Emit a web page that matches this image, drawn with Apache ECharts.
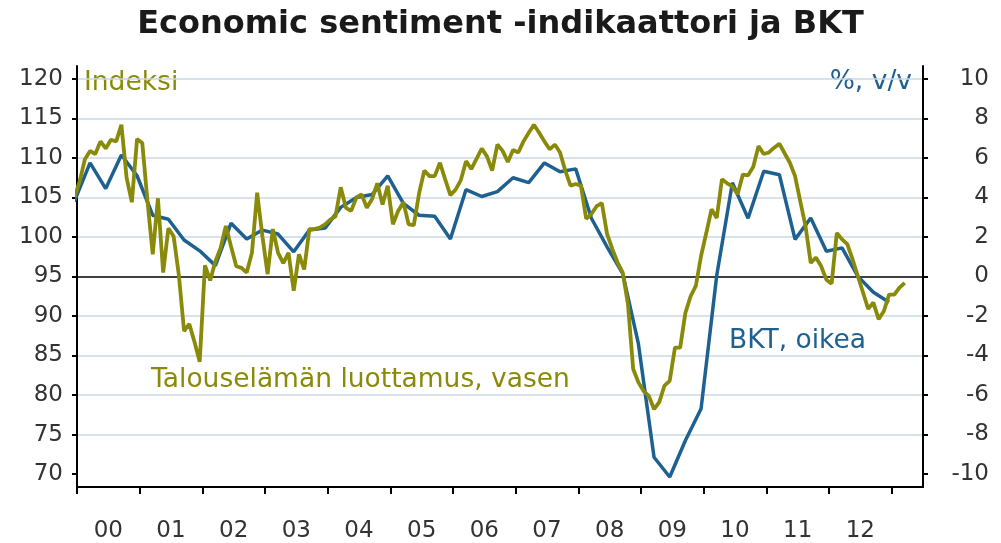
<!DOCTYPE html>
<html>
<head>
<meta charset="utf-8">
<script src="https://cdn.jsdelivr.net/npm/echarts@6/dist/echarts.min.js"></script>
<style>html,body{margin:0;padding:0;background:#fff}#c{width:1001px;height:543px}</style>
</head>
<body>
<div id="c"></div>
<script>
// ---------- data ----------
const titleText = 'Economic sentiment -indikaattori ja BKT';
const yearTicks = [2000, 2001, 2002, 2003, 2004, 2005, 2006, 2007, 2008, 2009, 2010, 2011, 2012, 2013];
const yearLabels = ['00', '01', '02', '03', '04', '05', '06', '07', '08', '09', '10', '11', '12'];
const leftTicks = [70, 75, 80, 85, 90, 95, 100, 105, 110, 115, 120];
const rightTicks = [-10, -8, -6, -4, -2, 0, 2, 4, 6, 8, 10];

// Economic sentiment indicator (monthly, left axis), first value = Dec 1999
const sentimentStartYear = 1999;
const sentimentStartMonth = 12;
const sentiment = [
  105.0,
  107.0, 109.8, 110.9, 110.5, 112.1, 111.2, 112.3, 112.1, 114.2, 107.5, 104.4, 112.4,
  111.9, 104.5, 97.8, 104.9, 95.5, 101.1, 100.1, 95.2, 88.1, 89.0, 86.7, 84.2,
  96.4, 94.5, 96.9, 98.6, 101.4, 98.8, 96.3, 96.1, 95.5, 98.0, 105.6, 100.1,
  95.3, 101.0, 98.0, 96.7, 98.0, 93.2, 97.8, 95.9, 101.0, 101.0, 101.2, 101.6,
  102.2, 102.6, 106.3, 103.7, 103.3, 105.0, 105.4, 103.7, 104.8, 106.8, 104.1, 106.5,
  101.6, 103.3, 104.4, 101.6, 101.5, 105.5, 108.4, 107.7, 107.7, 109.4, 107.3, 105.3,
  106.0, 107.2, 109.6, 108.6, 109.9, 111.2, 110.2, 108.4, 111.7, 110.9, 109.5, 111.0,
  110.7, 112.1, 113.2, 114.2, 113.2, 112.1, 111.1, 111.7, 110.7, 108.4, 106.5, 106.7,
  106.5, 102.3, 102.9, 103.9, 104.3, 100.4, 98.5, 96.8, 95.5, 91.5, 83.3, 81.6,
  80.5, 79.9, 78.2, 79.1, 81.2, 81.8, 86.0, 86.0, 90.4, 92.5, 93.8, 97.6,
  100.5, 103.5, 102.4, 107.3, 106.8, 106.4, 105.4, 107.9, 107.8, 108.9, 111.5, 110.5,
  110.7, 111.3, 111.8, 110.6, 109.4, 107.7, 104.5, 101.4, 96.7, 97.4, 96.3, 94.6,
  94.1, 100.5, 99.7, 99.1, 97.2, 95.1, 93.0, 90.9, 91.7, 89.6, 90.6, 92.7,
  92.7, 93.6, 94.2
];

// GDP, % y/y (quarterly, right axis), first value = Q4 1999
const gdpStartYear = 1999;
const gdpStartQuarter = 4;
const gdp = [
  3.8,
  5.75, 4.45, 6.15, 5.1,
  3.1, 2.9, 1.85, 1.3,
  0.55, 2.7, 1.9, 2.35,
  2.15, 1.25, 2.35, 2.45,
  3.5, 4.0, 4.15, 5.1,
  3.7, 3.1, 3.05, 1.9,
  4.4, 4.05, 4.3, 5.0,
  4.75, 5.75, 5.3, 5.45,
  2.95, 1.5, 0.15, -3.4,
  -9.15, -10.15, -8.3, -6.7,
  0.05, 4.75, 2.95, 5.33,
  5.15, 1.88, 2.96, 1.28,
  1.45, 0.02, -0.8, -1.3
];

// ---------- build ----------
const sentimentData = sentiment.map((v, i) => {
  const m = (sentimentStartMonth - 1) + i;
  const y = sentimentStartYear + Math.floor(m / 12);
  return [y + ((m % 12) + 0.5) / 12, v];
});
const gdpData = gdp.map((v, i) => {
  const q = (gdpStartQuarter - 1) + i;
  const y = gdpStartYear + Math.floor(q / 4);
  return [y + ((q % 4) * 3 + 2.5) / 12, v];
});

const OLIVE = '#8a8a0a';
const BLUE = '#1e6190';
const FONT = 'DejaVu Sans';
const GRID = '#cbd9e3';
const ANNO_FONT = '26.5px "DejaVu Sans"';

const splitColors = leftTicks.map(t => t === 95 ? '#000000' : (t === 70 ? 'rgba(0,0,0,0)' : GRID));

const chart = echarts.init(document.getElementById('c'), null, {renderer: 'canvas'});
chart.setOption({
  animation: false,
  backgroundColor: '#ffffff',
  title: {
    text: titleText,
    left: 'center',
    top: 4,
    textStyle: {fontFamily: FONT, fontSize: 32, fontWeight: 'bold', color: '#1a1a1a'}
  },
  grid: {left: 77, right: 78, top: 66, bottom: 55, containLabel: false},
  xAxis: {
    type: 'value',
    min: 2000,
    max: 2013.5,
    axisLine: {show: true, onZero: false, lineStyle: {color: '#000', width: 2}},
    axisTick: {show: true, customValues: yearTicks, length: 7, lineStyle: {color: '#000', width: 2}},
    axisLabel: {
      show: true,
      customValues: yearTicks.slice(0, -1).map(y => y + 0.5),
      formatter: v => yearLabels[Math.round(v - 0.5) - yearTicks[0]],
      margin: 33,
      fontFamily: FONT, fontSize: 23, color: '#333'
    },
    splitLine: {show: false}
  },
  yAxis: [
    {
      type: 'value',
      position: 'left',
      min: 68.36,
      max: 121.64,
      axisLine: {show: true, lineStyle: {color: '#000', width: 2}},
      axisTick: {show: true, customValues: leftTicks, length: 5, lineStyle: {color: '#000', width: 2}},
      axisLabel: {customValues: leftTicks, margin: 14, fontFamily: FONT, fontSize: 23, color: '#333'},
      splitLine: {show: true, lineStyle: {color: splitColors, width: 1.6}}
    },
    {
      type: 'value',
      position: 'right',
      min: -10.657,
      max: 10.657,
      axisLine: {show: true, lineStyle: {color: '#000', width: 2}},
      axisTick: {show: true, customValues: rightTicks, length: 5, lineStyle: {color: '#000', width: 2}},
      axisLabel: {customValues: rightTicks, align: 'right', margin: 66, fontFamily: FONT, fontSize: 23, color: '#333'},
      splitLine: {show: false}
    }
  ],
  graphic: [
    {type: 'text', left: 84, top: 70, style: {text: 'Indeksi', font: ANNO_FONT, fill: OLIVE}},
    {type: 'text', right: 89, top: 69, style: {text: '%, v/v', font: ANNO_FONT, fill: BLUE}},
    {type: 'text', left: 151, top: 367, style: {text: 'Talouselämän luottamus, vasen', font: ANNO_FONT, fill: OLIVE}},
    {type: 'text', left: 729, top: 328, style: {text: 'BKT, oikea', font: ANNO_FONT, fill: BLUE}}
  ],
  series: [
    {
      name: 'BKT', type: 'line', yAxisIndex: 1, data: gdpData, showSymbol: false,
      lineStyle: {color: BLUE, width: 3.5}, clip: true, z: 2
    },
    {
      name: 'Sentiment', type: 'line', yAxisIndex: 0, data: sentimentData, showSymbol: false,
      lineStyle: {color: OLIVE, width: 3.8}, clip: true, z: 3
    }
  ]
});
</script>
</body>
</html>
